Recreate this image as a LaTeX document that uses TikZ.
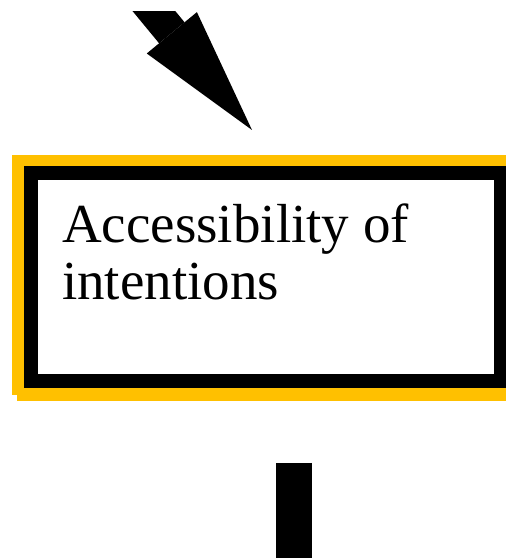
\documentclass[tikz,border=0pt]{standalone}
\usepackage{fontspec}
\setmainfont{Liberation Serif}
\usepackage{xcolor}
\usetikzlibrary{arrows.meta,positioning,calc,backgrounds}
\definecolor{frameyellow}{HTML}{FFC000}
\tikzset{
	framebox/.style={draw=black, line width=14pt, fill=white, inner sep=0pt, outer sep=0pt},
	fatarrow/.style={-{Triangle[length=126pt, width=65pt, line width=0pt]}, line width=33pt},
	shaft/.style={line width=36pt},
	titletext/.style={font=\fontsize{55}{58}\selectfont, align=left, inner sep=0pt}
}

\begin{document}
\begin{tikzpicture}[x=1pt, y=1pt]
	\useasboundingbox (0,0) rectangle (506,558);
	\clip (0,0) rectangle (506,546);
	
	%% -- the box with its yellow frame
	\node[framebox, minimum width=470pt, minimum height=208pt] (box) at (265.5,281) {};
	
	\begin{scope}[on background layer]
		\fill[frameyellow] ([shift={(-18.5,18)}]box.north west) rectangle ([shift={(19.5,-14)}]box.south east);
		\fill[frameyellow] ([shift={(-13.5,-20)}]box.south west) rectangle ([shift={(24.5,13)}]box.north east);
	\end{scope}
	
	\node[titletext, anchor=base west] (title)
	at ([shift={(31.5,-127)}]box.north west)
	{Accessibility of\\intentions};
	
	%% -- incoming arrow
	\coordinate (src) at ([shift={(-133.5,188.5)}]box.north);
	\coordinate (tip) at ([shift={(-13.5,43)}]box.north);
	\draw[fatarrow] (src) -- (tip);
	
	%% -- outgoing shaft
	\coordinate (out) at ([shift={(28.5,-82)}]box.south);
	\coordinate (down) at ([yshift=-110pt]out);
	\draw[shaft] (out) -- (down);
	
\end{tikzpicture}
\end{document}
